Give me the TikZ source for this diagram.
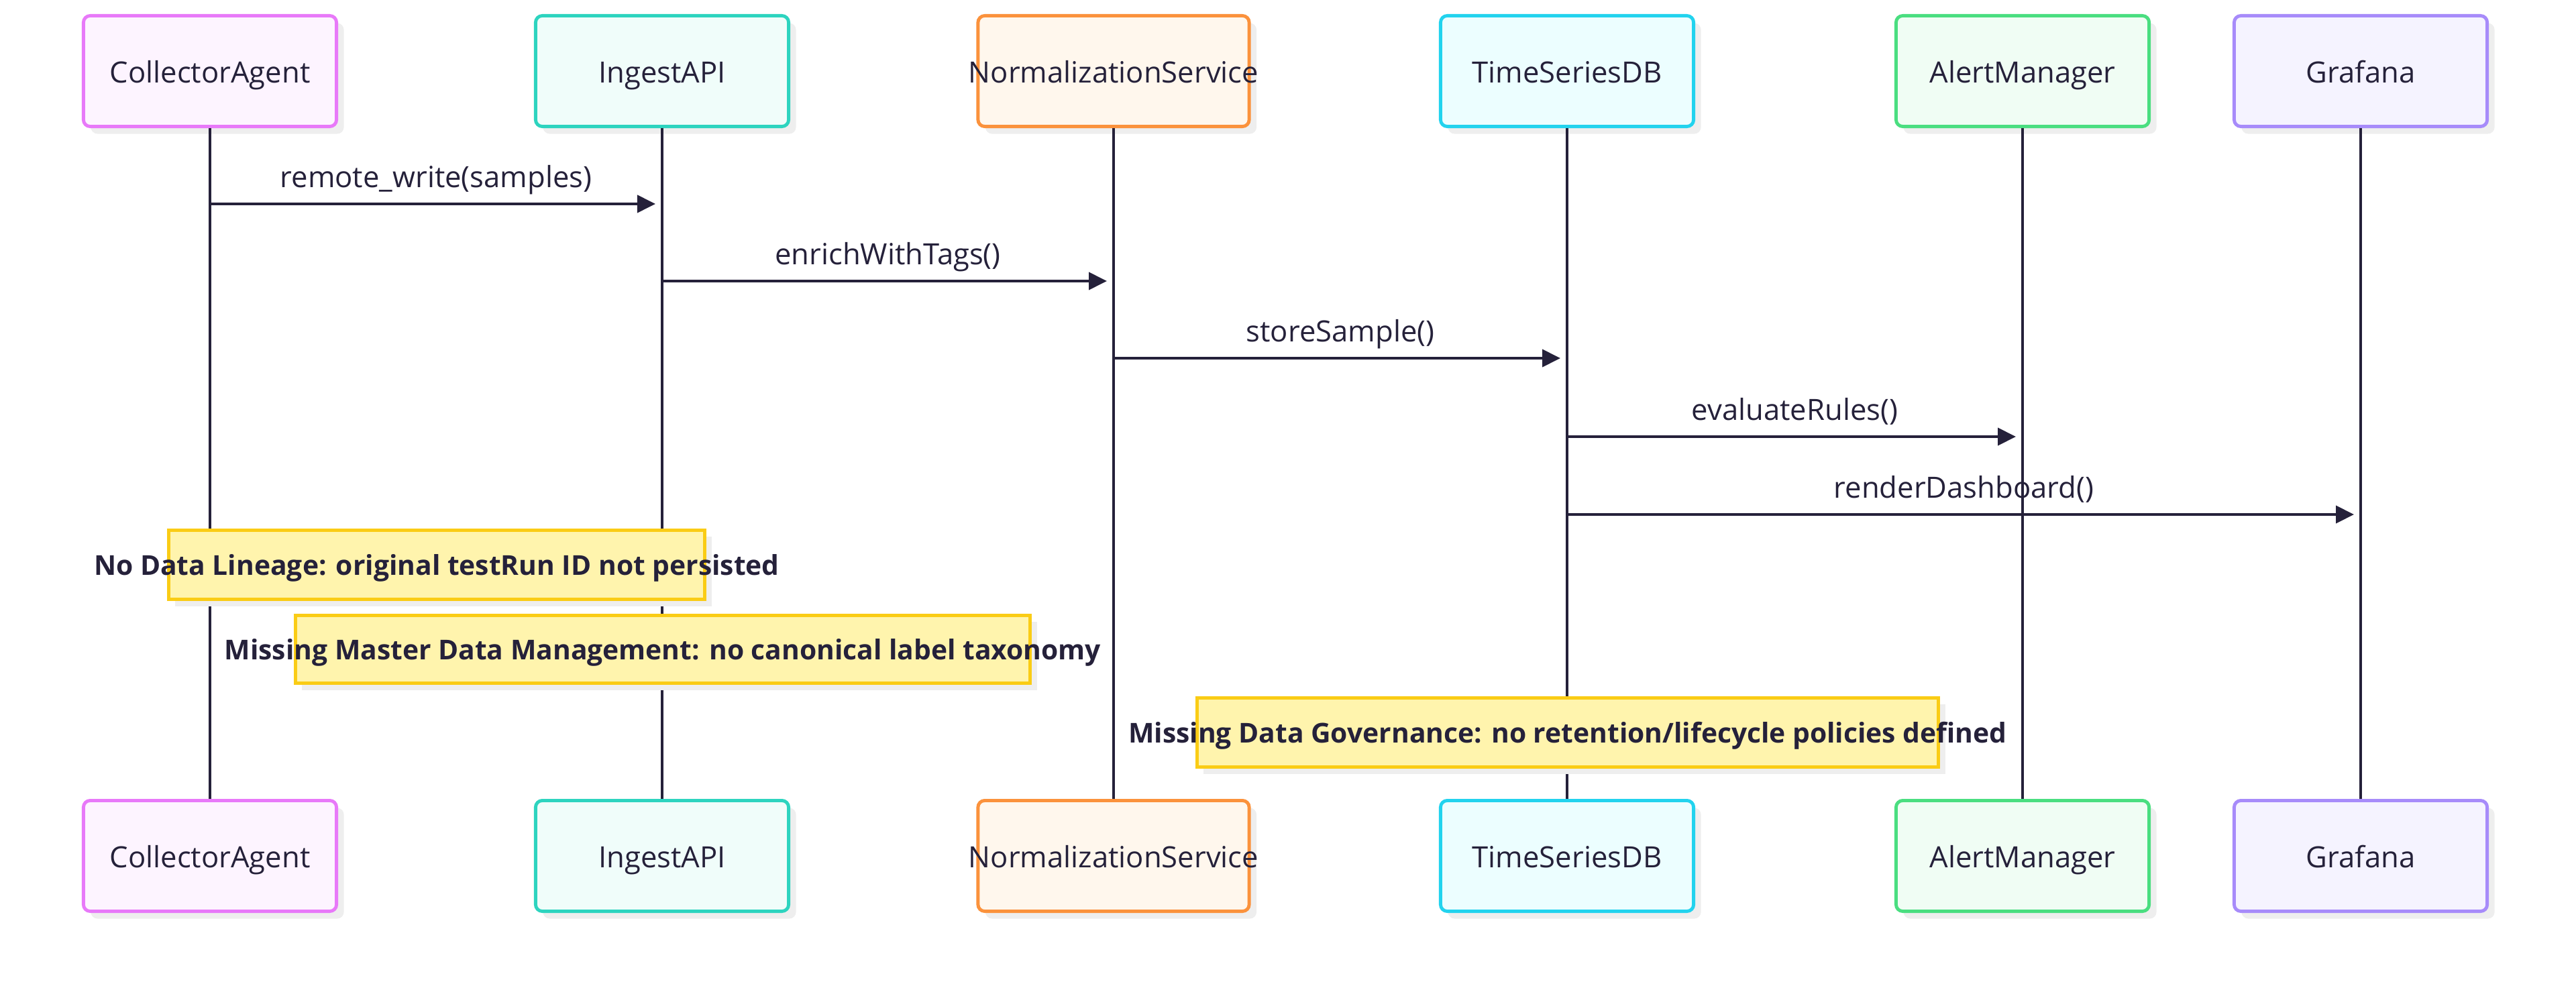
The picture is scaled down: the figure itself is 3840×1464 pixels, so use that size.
\documentclass[tikz,border=0pt]{standalone}
\usepackage{fontspec}
\setmainfont{Open Sans}
\usetikzlibrary{positioning,arrows.meta,shadows}

\definecolor{ink}{HTML}{25213A}
\definecolor{shade}{HTML}{EEEEEE}
\definecolor{caline}{HTML}{E879F9}
\definecolor{cafill}{HTML}{FDF4FF}
\definecolor{ialine}{HTML}{2DD4BF}
\definecolor{iafill}{HTML}{F0FDFA}
\definecolor{nsline}{HTML}{FB923C}
\definecolor{nsfill}{HTML}{FFF7ED}
\definecolor{tsline}{HTML}{22D3EE}
\definecolor{tsfill}{HTML}{ECFEFF}
\definecolor{amline}{HTML}{4ADE80}
\definecolor{amfill}{HTML}{F0FDF4}
\definecolor{grline}{HTML}{A78BFA}
\definecolor{grfill}{HTML}{F5F3FF}
\definecolor{noteline}{HTML}{FACC15}
\definecolor{notefill}{HTML}{FFF4AD}

\tikzset{
  actor/.style={line width=1.4pt, rounded corners=0.1cm, minimum width=3.77cm,
    minimum height=1.65cm, text=ink, font=\fontsize{12.4}{15}\selectfont,
    text height=2.1ex, text depth=0.2ex,
    drop shadow={shadow xshift=0.11cm, shadow yshift=-0.11cm, fill=shade, opacity=1}},
  note/.style={draw=noteline, fill=notefill, line width=1.4pt, text=ink,
    font=\fontsize{11.6}{14}\selectfont\bfseries, text height=1.8ex, text depth=0.2ex,
    drop shadow={shadow xshift=0.1cm, shadow yshift=-0.1cm, fill=shade, opacity=1}},
  life/.style={draw=ink, line width=0.9pt},
  msg/.style={draw=ink, line width=1.1pt, -{Triangle[length=0.27cm,width=0.26cm]}, shorten >=0.1cm},
  msglabel/.style={text=ink, font=\fontsize{12.4}{15}\selectfont, above=0.01cm,
    text height=1.6ex, text depth=0.5ex}
}

\begin{document}
\begin{tikzpicture}[x=0.01cm,y=-0.01cm]
\useasboundingbox (0,0) rectangle (3840,1464);

% participants, top row
\node[actor, draw=caline, fill=cafill] (ca) at (313,106) {CollectorAgent};
\node[actor, draw=ialine, fill=iafill] (ia) at (987,106) {IngestAPI};
\node[actor, draw=nsline, fill=nsfill, minimum width=4.04cm] (ns) at (1660,106) {\makebox[0pt]{NormalizationService}};
\node[actor, draw=tsline, fill=tsfill] (ts) at (2336,106) {TimeSeriesDB};
\node[actor, draw=amline, fill=amfill] (am) at (3015,106) {AlertManager};
\node[actor, draw=grline, fill=grfill] (gr) at (3519,106) {Grafana};

% participants, bottom row
\node[actor, draw=caline, fill=cafill] (cab) at (313,1276) {CollectorAgent};
\node[actor, draw=ialine, fill=iafill] (iab) at (987,1276) {IngestAPI};
\node[actor, draw=nsline, fill=nsfill, minimum width=4.04cm] (nsb) at (1660,1276) {\makebox[0pt]{NormalizationService}};
\node[actor, draw=tsline, fill=tsfill] (tsb) at (2336,1276) {TimeSeriesDB};
\node[actor, draw=amline, fill=amfill] (amb) at (3015,1276) {AlertManager};
\node[actor, draw=grline, fill=grfill] (grb) at (3519,1276) {Grafana};

% lifelines
\draw[life] (ca) -- (cab);
\draw[life] (ia) -- (iab);
\draw[life] (ns) -- (nsb);
\draw[life] (ts) -- (tsb);
\draw[life] (am) -- (amb);
\draw[life] (gr) -- (grb);

% messages
\coordinate (m1) at (0,304);
\coordinate (m2) at (0,419);
\coordinate (m3) at (0,534);
\coordinate (m4) at (0,651);
\coordinate (m5) at (0,767);
\draw[msg] (ca |- m1) -- node[msglabel] {remote\_write(samples)} (ia |- m1);
\draw[msg] (ia |- m2) -- node[msglabel] {enrichWithTags()} (ns |- m2);
\draw[msg] (ns |- m3) -- node[msglabel] {storeSample()} (ts |- m3);
\draw[msg] (ts |- m4) -- node[msglabel] {evaluateRules()} (am |- m4);
\draw[msg] (ts |- m5) -- node[msglabel] {renderDashboard()} (gr |- m5);

% notes
\node[note, minimum width=7.99cm, minimum height=1.03cm] (lineage) at (651,842) {\makebox[0pt]{No Data Lineage: original testRun ID not persisted}};
\node[note, minimum width=10.95cm, minimum height=1.01cm] (mdm) at (988,968) {\makebox[0pt]{Missing Master Data Management: no canonical label taxonomy}};
\node[note, minimum width=11.05cm, minimum height=1.03cm] (gov) at (2337,1092) {\makebox[0pt]{Missing Data Governance: no retention/lifecycle policies defined}};
\end{tikzpicture}
\end{document}
